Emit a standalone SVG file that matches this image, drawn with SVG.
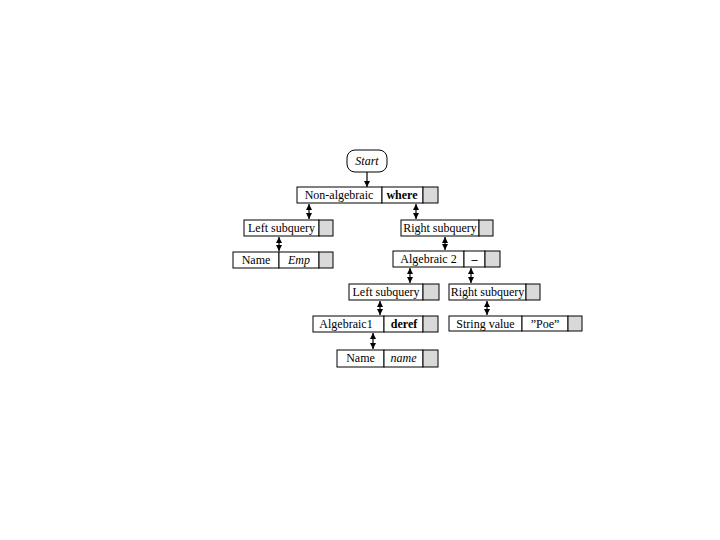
<svg xmlns="http://www.w3.org/2000/svg" width="720" height="540" viewBox="0 0 720 540">
<defs>
<marker id="ah" viewBox="0 0 6 6" refX="6" refY="3" markerWidth="6" markerHeight="6" markerUnits="userSpaceOnUse" orient="auto-start-reverse">
<path d="M0,0 L6,3 L0,6 Z" fill="#000"/>
</marker>
<style>
.b{fill:#fff;stroke:#000;stroke-width:1}
.g{fill:#d9d9d9;stroke:#000;stroke-width:1}
text{font-family:"Liberation Serif","Times New Roman",serif;font-size:12px;fill:#000;text-anchor:middle}
.i{font-style:italic}
.bd{font-weight:bold}
.c line{stroke:#000;stroke-width:1.2}
</style>
</defs>
<rect width="720" height="540" fill="#fff"/>
<g class="c" id="connectors">
<line x1="367" y1="172" x2="367" y2="187" marker-end="url(#ah)"/>
<line x1="309" y1="204" x2="309" y2="219" marker-start="url(#ah)" marker-end="url(#ah)"/>
<line x1="416" y1="204" x2="416" y2="219" marker-start="url(#ah)" marker-end="url(#ah)"/>
<line x1="279" y1="237" x2="279" y2="251" marker-start="url(#ah)" marker-end="url(#ah)"/>
<line x1="445" y1="237" x2="445" y2="250" marker-start="url(#ah)" marker-end="url(#ah)"/>
<line x1="410" y1="268" x2="410" y2="283" marker-start="url(#ah)" marker-end="url(#ah)"/>
<line x1="471" y1="268" x2="471" y2="283" marker-start="url(#ah)" marker-end="url(#ah)"/>
<line x1="380" y1="301" x2="380" y2="315" marker-start="url(#ah)" marker-end="url(#ah)"/>
<line x1="487" y1="301" x2="487" y2="315" marker-start="url(#ah)" marker-end="url(#ah)"/>
<line x1="373" y1="333" x2="373" y2="349" marker-start="url(#ah)" marker-end="url(#ah)"/>
</g>
<g id="start">
<rect class="b" x="347" y="150" width="40" height="22" rx="8"/>
<text class="i" x="367" y="165">Start</text>
</g>
<g id="nonalg">
<rect class="b" x="297" y="187" width="85" height="16"/>
<rect class="b" x="382" y="187" width="41" height="16"/>
<rect class="g" x="423" y="187" width="15" height="16"/>
<text x="339" y="199">Non-algebraic</text>
<text class="bd" x="402" y="199">where</text>
</g>
<g id="leftsub1">
<rect class="b" x="244" y="220" width="75" height="16"/>
<rect class="g" x="319" y="220" width="14" height="16"/>
<text x="281.5" y="232">Left subquery</text>
</g>
<g id="rightsub1">
<rect class="b" x="401" y="220" width="78" height="16"/>
<rect class="g" x="479" y="220" width="14" height="16"/>
<text x="440" y="232">Right subquery</text>
</g>
<g id="nameEmp">
<rect class="b" x="233" y="252" width="46" height="16"/>
<rect class="b" x="279" y="252" width="40" height="16"/>
<rect class="g" x="319" y="252" width="14" height="16"/>
<text x="256" y="264">Name</text>
<text class="i" x="299" y="264">Emp</text>
</g>
<g id="alg2">
<rect class="b" x="393" y="251" width="71" height="16"/>
<rect class="b" x="464" y="251" width="21" height="16"/>
<rect class="g" x="485" y="251" width="15" height="16"/>
<text x="428.5" y="263">Algebraic 2</text>
<text class="bd" x="474.5" y="263">–</text>
</g>
<g id="leftsub2">
<rect class="b" x="349" y="284" width="74" height="16"/>
<rect class="g" x="423" y="284" width="16" height="16"/>
<text x="386" y="296">Left subquery</text>
</g>
<g id="rightsub2">
<rect class="b" x="449" y="284" width="77" height="16"/>
<rect class="g" x="526" y="284" width="14" height="16"/>
<text x="487.5" y="296">Right subquery</text>
</g>
<g id="alg1">
<rect class="b" x="313" y="316" width="71" height="16"/>
<rect class="b" x="384" y="316" width="39" height="16"/>
<rect class="g" x="423" y="316" width="15" height="16"/>
<text x="346" y="328">Algebraic1</text>
<text class="bd" x="404" y="328">deref</text>
</g>
<g id="stringval">
<rect class="b" x="449" y="316" width="73" height="15"/>
<rect class="b" x="522" y="316" width="46" height="15"/>
<rect class="g" x="568" y="316" width="14" height="15"/>
<text x="485.5" y="328">String value</text>
<text x="545" y="328">”Poe”</text>
</g>
<g id="name2">
<rect class="b" x="337" y="350" width="47" height="17"/>
<rect class="b" x="384" y="350" width="39" height="17"/>
<rect class="g" x="423" y="350" width="15" height="17"/>
<text x="360.5" y="362">Name</text>
<text class="i" x="403.5" y="362">name</text>
</g>
</svg>
